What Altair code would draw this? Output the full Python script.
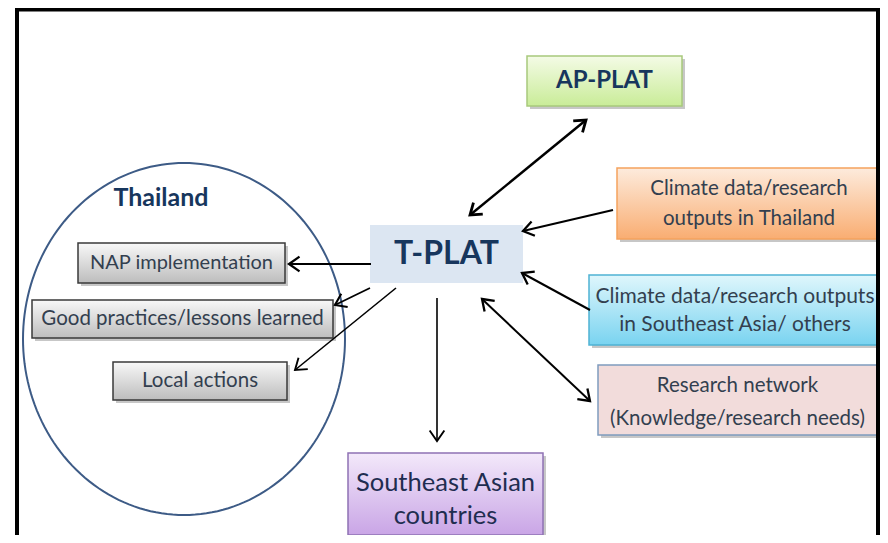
import altair as alt
import numpy as np
import pandas as pd

# ---------------- data ----------------
box_names = [
    "AP-PLAT",
    "T-PLAT",
    "Climate data/research\noutputs in Thailand",
    "Climate data/research outputs\nin Southeast Asia/ others",
    "Research network\n(Knowledge/research needs)",
    "Southeast Asian\ncountries",
    "NAP implementation",
    "Good practices/lessons learned",
    "Local actions",
]
box_x1 = [527, 370, 617, 589, 598, 348, 78, 32, 113]
box_x2 = [682, 523, 881, 881, 877, 543, 285, 333, 287]
box_y1 = [56, 225, 168, 275, 365, 453, 243, 300, 362]
box_y2 = [106, 283, 239, 345, 435, 535, 283, 338, 400]

arrow_x1 = [470, 613, 590, 482, 371, 370, 396, 437]
arrow_y1 = [215, 210, 310, 299, 264, 288, 288, 298]
arrow_x2 = [586, 523, 522, 590, 289, 335, 295, 437]
arrow_y2 = [120, 231, 273, 401, 264, 305, 370, 441]
arrow_double = [True, False, False, True, False, False, False, False]

region_label = "Thailand"
region_label_x = [161]
region_label_y = [198]
region_cx = [184]
region_cy = [339]
region_rx = [161]
region_ry = [176]

frame_left = 17
frame_top = 9.5
frame_right = 878

# ---------------- styles ----------------
# lh: line height; shift: vertical nudge of the text block (px)
box_styles = [
    dict(top="#f4fbe6", bottom="#c9ec98", stroke="#a8c97c", shadow=True, size=24, bold=True, color="#17365d", lh=28, shift=0),
    dict(top="#dce6f2", bottom="#dce6f2", stroke=None, shadow=False, size=32, bold=True, color="#17365d", lh=34, shift=0),
    dict(top="#fdebdc", bottom="#f9ad72", stroke="#f5a25d", shadow=True, size=20.5, bold=False, color="#333f4f", lh=30, shift=0),
    dict(top="#dff6fc", bottom="#79d3f0", stroke="#4fb3d3", shadow=True, size=21, bold=False, color="#333f4f", lh=28, shift=1),
    dict(top="#f2dcdb", bottom="#f2dcdb", stroke="#7f9cbf", shadow=True, size=20.5, bold=False, color="#333f4f", lh=33, shift=2),
    dict(top="#f3e9fa", bottom="#c9a5e6", stroke="#8f72b4", shadow=True, size=25.5, bold=False, color="#1f2d50", lh=33, shift=5),
    dict(top="#f8f8f8", bottom="#bdbdbd", stroke="#3a3a3a", shadow=True, size=20, bold=False, color="#333f4f", lh=22, shift=0),
    dict(top="#f8f8f8", bottom="#bdbdbd", stroke="#3a3a3a", shadow=True, size=20.5, bold=False, color="#333f4f", lh=22, shift=0),
    dict(top="#f8f8f8", bottom="#bdbdbd", stroke="#3a3a3a", shadow=True, size=20.5, bold=False, color="#333f4f", lh=22, shift=0),
]
arrow_widths = [2.5, 2, 2, 2, 2, 1.8, 1.6, 1.6]
FONT = "Lato"

W, H = 872, 527
xs = alt.Scale(domain=[8, 8 + W], nice=False, zero=False)
ys = alt.Scale(domain=[8, 8 + H], nice=False, zero=False, reverse=True)


def X(f):
    return alt.X(f"{f}:Q", scale=xs, axis=None)


def Y(f):
    return alt.Y(f"{f}:Q", scale=ys, axis=None)


layers = []

# region ellipse
t = np.linspace(0, 2 * np.pi, 181)
ell = pd.DataFrame({
    "i": np.arange(len(t)),
    "x": region_cx[0] + region_rx[0] * np.cos(t),
    "y": region_cy[0] + region_ry[0] * np.sin(t),
})
layers.append(
    alt.Chart(ell).mark_line(color="#3d5b86", strokeWidth=2).encode(
        x=X("x"), y=Y("y"), order="i:Q")
)

# region label
lab = pd.DataFrame({"x": region_label_x, "y": region_label_y, "t": [region_label]})
layers.append(
    alt.Chart(lab).mark_text(font=FONT, fontSize=25, fontWeight="bold", color="#17365d").encode(
        x=X("x"), y=Y("y"), text="t:N")
)

# boxes
for i, name in enumerate(box_names):
    st = box_styles[i]
    d = pd.DataFrame({"x1": [box_x1[i]], "x2": [box_x2[i]], "y1": [box_y1[i]],
                      "y2": [box_y2[i]], "label": [name]})
    base = alt.Chart(d).encode(x=X("x1"), x2="x2", y=Y("y1"), y2="y2")
    if st["shadow"]:
        layers.append(base.mark_rect(color="#000000", opacity=0.22, xOffset=3, yOffset=3,
                                     x2Offset=3, y2Offset=3))
    grad = alt.Gradient(
        gradient="linear",
        stops=[alt.GradientStop(color=st["top"], offset=0),
               alt.GradientStop(color=st["bottom"], offset=1)],
        x1=0, x2=0, y1=0, y2=1,
    )
    rect_kw = dict(fill=grad)
    if st["stroke"]:
        rect_kw.update(stroke=st["stroke"], strokeWidth=1.5)
    else:
        rect_kw.update(strokeWidth=0)
    layers.append(base.mark_rect(**rect_kw))
    nlines = name.count("\n") + 1
    layers.append(
        alt.Chart(d).transform_calculate(
            cx="(datum.x1 + datum.x2) / 2", cy="(datum.y1 + datum.y2) / 2"
        ).mark_text(
            font=FONT, fontSize=st["size"], fontWeight="bold" if st["bold"] else "normal",
            color=st["color"], lineBreak="\n", lineHeight=st["lh"], baseline="middle",
            dy=-(nlines - 1) * st["lh"] / 2 + st["shift"],
        ).encode(x=X("cx"), y=Y("cy"), text="label:N")
    )

# frame
frame_v = pd.DataFrame({"x": [frame_left, frame_right], "y": [8, 8], "y2": [535, 535]})
layers.append(
    alt.Chart(frame_v).mark_rule(color="black", strokeWidth=4).encode(
        x=X("x"), y=Y("y"), y2="y2")
)
frame_h = pd.DataFrame({"x": [frame_left - 2], "x2": [frame_right + 2], "y": [frame_top]})
layers.append(
    alt.Chart(frame_h).mark_rule(color="black", strokeWidth=4).encode(
        x=X("x"), x2="x2", y=Y("y"))
)

# arrows
arr = pd.DataFrame({"x1": arrow_x1, "y1": arrow_y1, "x2": arrow_x2, "y2": arrow_y2,
                    "w": arrow_widths})
layers.append(
    alt.Chart(arr).mark_rule(color="black").encode(
        x=X("x1"), y=Y("y1"), x2="x2", y2="y2",
        strokeWidth=alt.StrokeWidth("w:Q", scale=None))
)

hx, hy, ha, hw = [], [], [], []
for i in range(len(arrow_x1)):
    dx = arrow_x2[i] - arrow_x1[i]
    dy = arrow_y2[i] - arrow_y1[i]
    ang = np.degrees(np.arctan2(dx, -dy)) % 360
    hx.append(arrow_x2[i]); hy.append(arrow_y2[i]); ha.append(ang); hw.append(arrow_widths[i] + 0.3)
    if arrow_double[i]:
        hx.append(arrow_x1[i]); hy.append(arrow_y1[i]); ha.append((ang + 180) % 360); hw.append(arrow_widths[i] + 0.3)
heads = pd.DataFrame({"x": hx, "y": hy, "a": ha, "w": hw})
layers.append(
    alt.Chart(heads).mark_point(
        shape="M-0.7,1L0,0L0.7,1", filled=False, color="black", size=441, opacity=1,
        strokeJoin="miter", strokeCap="butt",
    ).encode(
        x=X("x"), y=Y("y"),
        angle=alt.Angle("a:Q", scale=None),
        strokeWidth=alt.StrokeWidth("w:Q", scale=None),
    )
)

chart = alt.layer(*layers).properties(
    width=W, height=H, padding=0, autosize=alt.AutoSizeParams(type="none"),
    background="white",
).configure_view(stroke=None)

chart.save("out.html", embed_options={"renderer": "svg", "actions": False})
